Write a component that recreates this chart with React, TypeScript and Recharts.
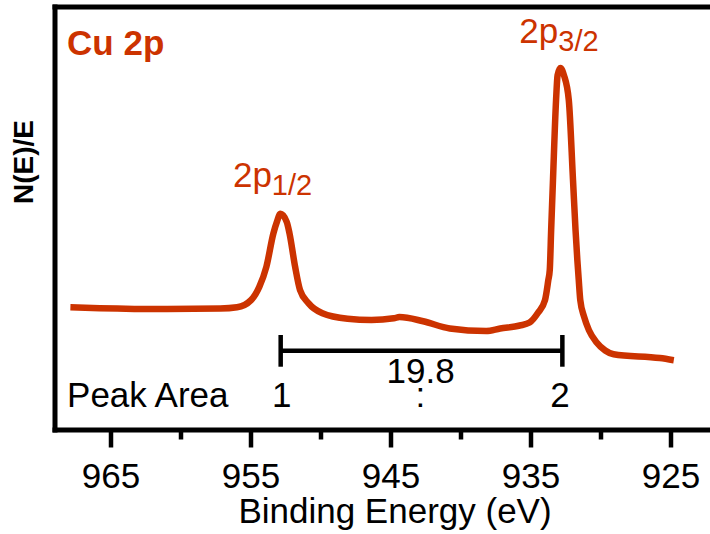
import React from 'react'
import { LineChart, Line, XAxis, YAxis, ReferenceLine, ReferenceDot } from 'recharts'

// Cu 2p XPS spectrum (binding energy in eV, intensity in arb. units)
const energy = [
  967.9, 965.8, 961.0, 957.2, 956.0, 955.0, 954.4, 953.9, 953.4, 953.15,
  952.9, 952.45, 952.25, 951.85, 951.5, 950.9, 949.9, 948.1, 946.4, 944.8,
  944.4, 942.7, 940.8, 938.2, 937.2, 935.8, 935.1, 934.5, 934.0, 933.76,
  933.66, 933.56, 933.43, 933.21, 933.1, 932.9, 932.65, 932.3, 932.0, 931.82,
  931.69, 931.59, 931.48, 931.21, 930.86, 930.31, 929.7, 929.1, 925.8, 924.8,
]
const intensity = [
  29.0, 28.8, 28.6, 28.7, 29.0, 30.7, 33.9, 38.6, 46.5, 49.2,
  51.1, 49.2, 46.5, 38.6, 33.1, 30.0, 27.6, 26.3, 26.0, 26.4,
  26.7, 25.7, 24.0, 23.4, 24.0, 24.7, 25.4, 27.7, 30.7, 35.5,
  37.8, 47.3, 59.1, 78.0, 83.9, 85.6, 83.9, 78.0, 59.1, 47.3,
  40.2, 35.5, 30.7, 26.8, 23.6, 20.7, 18.8, 17.9, 17.0, 16.5,
]
const xTicks = [965, 960, 955, 950, 945, 940, 935, 930, 925]
const majorTicks = [965, 955, 945, 935, 925]

// peak separation bar between the two peaks
const barEnds = [952.88, 932.76]
const barLevel = 18.75
const capRange = [14.96, 22.46]

const data = energy.map((e, i) => ({ e, v: intensity[i] }))

const ORANGE = '#cc3300'
const FONT = '"Liberation Sans", Arial, Helvetica, sans-serif'

type Note = { e: number; v: number; text: string; sub?: string; anchor: 'start' | 'middle'; bold?: boolean; color: string }

const notes: Note[] = [
  { e: 968.14, v: 88.65, text: 'Cu 2p', anchor: 'start', bold: true, color: ORANGE },
  { e: 953.46, v: 57.45, text: '2p', sub: '1/2', anchor: 'middle', color: ORANGE },
  { e: 933.0, v: 91.5, text: '2p', sub: '3/2', anchor: 'middle', color: ORANGE },
  { e: 968.14, v: 5.44, text: 'Peak Area', anchor: 'start', color: '#000' },
  { e: 952.8, v: 5.44, text: '1', anchor: 'middle', color: '#000' },
  { e: 942.9, v: 5.44, text: ':', anchor: 'middle', color: '#000' },
  { e: 932.93, v: 5.44, text: '2', anchor: 'middle', color: '#000' },
  { e: 942.88, v: 11.1, text: '19.8', anchor: 'middle', color: '#000' },
]

const NoteText = (props: any) => {
  const { viewBox, note } = props
  const x = viewBox.x + viewBox.width / 2
  const y = viewBox.y + viewBox.height / 2
  return (
    <text
      x={x}
      y={y}
      textAnchor={note.anchor}
      fill={note.color}
      fontFamily={FONT}
      fontSize={35}
      fontWeight={note.bold ? 'bold' : 'normal'}
    >
      <tspan>{note.text}</tspan>
      {note.sub && (
        <tspan dy={8} fontSize={29}>
          {note.sub}
        </tspan>
      )}
    </text>
  )
}

const EnergyTick = (props: any) => {
  const { x, y, payload } = props
  const major = majorTicks.includes(payload.value)
  return (
    <g>
      <line x1={x} x2={x} y1={y} y2={y + (major ? 17.5 : 9.5)} stroke="#000" strokeWidth={4.5} />
      {major && (
        <text x={x} y={y + 57.5} textAnchor="middle" fill="#000" fontFamily={FONT} fontSize={35}>
          {payload.value}
        </text>
      )}
    </g>
  )
}

export default function App() {
  return (
    <div style={{ position: 'fixed', left: 0, top: 0, width: 710, height: 534, overflow: 'hidden', background: '#fff' }}>
      <LineChart width={713} height={534} data={data} margin={{ top: 7, right: 0, bottom: 0, left: 0 }}>
        <XAxis
          dataKey="e"
          type="number"
          domain={[922, 969]}
          reversed
          allowDataOverflow
          ticks={xTicks}
          interval={0}
          tickSize={0}
          tickMargin={0}
          tickLine={false}
          tick={<EnergyTick />}
          height={104}
          axisLine={{ stroke: '#000', strokeWidth: 5, strokeLinecap: 'square' }}
          label={(p: any) => (
            <text
              x={p.viewBox.x + p.viewBox.width / 2 + 11}
              y={p.viewBox.y + 93}
              textAnchor="middle"
              fill="#000"
              fontFamily={FONT}
              fontSize={35}
            >
              Binding Energy (eV)
            </text>
          )}
        />
        <YAxis
          type="number"
          domain={[0, 100]}
          width={55}
          tick={false}
          tickLine={false}
          axisLine={{ stroke: '#000', strokeWidth: 5, strokeLinecap: 'square' }}
          label={(p: any) => {
            const x = p.viewBox.x + 33
            const y = p.viewBox.y + 155
            return (
              <text
                x={x}
                y={y}
                transform={`rotate(-90, ${x}, ${y})`}
                textAnchor="middle"
                fill="#000"
                fontFamily={FONT}
                fontSize={28}
                fontWeight="bold"
              >
                N(E)/E
              </text>
            )
          }}
        />
        <ReferenceLine y={100} stroke="#000" strokeWidth={5} strokeLinecap="square" />
        <ReferenceLine
          segment={[{ x: barEnds[0], y: barLevel }, { x: barEnds[1], y: barLevel }]}
          stroke="#000"
          strokeWidth={4.5}
        />
        {barEnds.map((e) => (
          <ReferenceLine
            key={e}
            segment={[{ x: e, y: capRange[0] }, { x: e, y: capRange[1] }]}
            stroke="#000"
            strokeWidth={4.5}
          />
        ))}
        <Line
          type="monotone"
          dataKey="v"
          stroke={ORANGE}
          strokeWidth={6.5}
          strokeLinejoin="round"
          dot={false}
          activeDot={false}
          isAnimationActive={false}
        />
        {notes.map((n, i) => (
          <ReferenceDot
            key={i}
            x={n.e}
            y={n.v}
            r={0}
            fill="none"
            stroke="none"
            label={(p: any) => <NoteText {...p} note={n} />}
          />
        ))}
      </LineChart>
    </div>
  )
}
